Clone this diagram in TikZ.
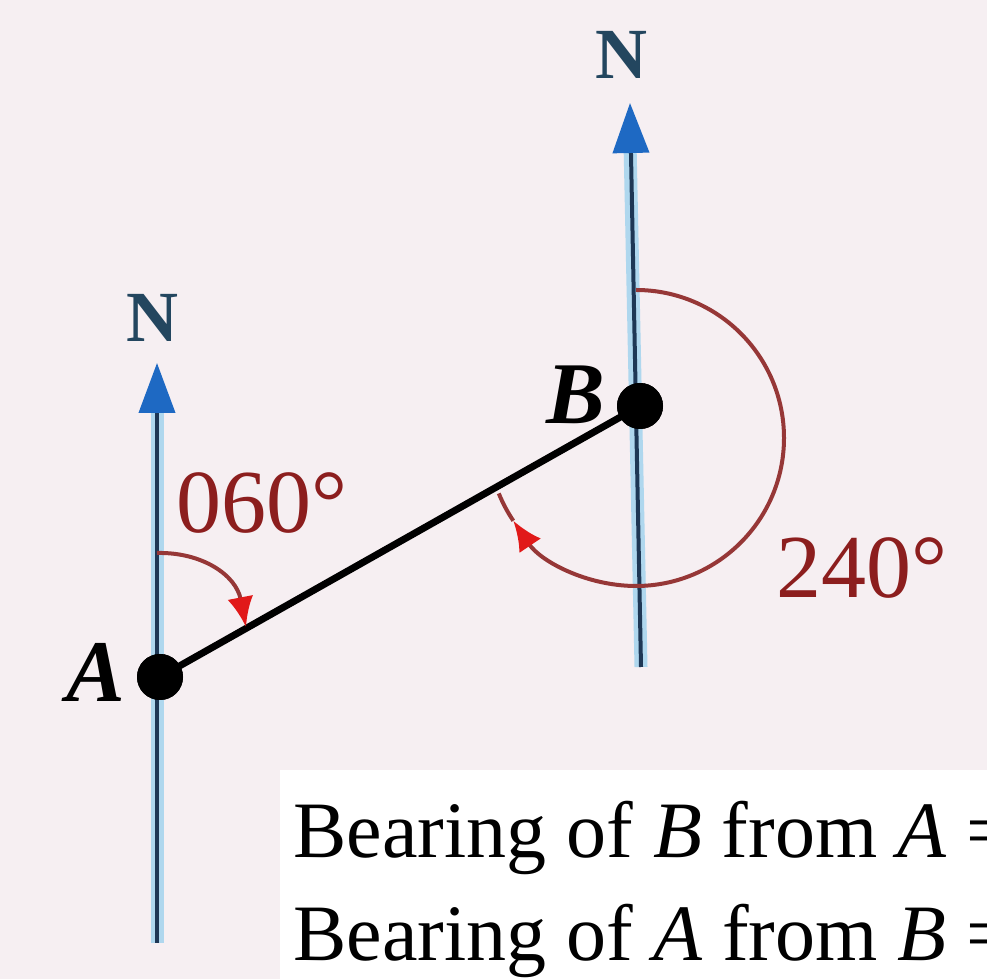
\documentclass[tikz,border=0pt]{standalone}
\usepackage{fontspec}
\setmainfont{Liberation Serif}
\usetikzlibrary{arrows.meta,calc}
\definecolor{bgc}{RGB}{246,239,242}
\definecolor{navy}{RGB}{30,55,85}
\definecolor{haloc}{RGB}{175,215,238}
\definecolor{tipblue}{RGB}{30,105,195}
\definecolor{arcred}{RGB}{150,55,55}
\definecolor{txtred}{RGB}{140,30,30}
\definecolor{brightred}{RGB}{225,25,25}
\definecolor{ntext}{RGB}{35,70,95}
\begin{document}
\begin{tikzpicture}[x=1pt,y=1pt,
  haloline/.style={haloc, line width=13pt},
  northline/.style={navy, line width=4pt, -{Triangle[length=50pt,width=36pt,color=tipblue]}},
  abline/.style={black, line width=7pt},
  ptdot/.style={circle, fill=black, minimum size=46pt, inner sep=0pt},
  nlab/.style={ntext, font=\fontsize{72}{72}\selectfont\bfseries, inner sep=0pt},
  ptlab/.style={black, font=\fontsize{88}{88}\selectfont\bfseries\itshape, inner sep=0pt},
  anglab/.style={txtred, font=\fontsize{90}{90}\selectfont, inner sep=0pt, anchor=west},
  arcline/.style={arcred, line width=4pt},
  redtip/.style={-{Latex[length=30pt,width=26pt,color=brightred]}},
  caption/.style={black, font=\fontsize{80}{100}\selectfont, inner sep=0pt, anchor=base west}
]
\useasboundingbox (0,0) rectangle (987,979);
\clip (0,0) rectangle (987,979);
\fill[bgc] (0,0) rectangle (987,979);

% named points
\coordinate (Lbot) at (157,36);
\coordinate (Ltop) at (157,616);
\coordinate (Rbot) at (641,312);
\coordinate (Rtop) at (630,876);
\coordinate (C) at (636,541);

% north lines
\draw[haloline] (Lbot) -- ($(Ltop)+(0,-40)$);
\draw[haloline] (Rbot) -- ($(Rtop)+(0,-40)$);
\draw[northline] (Lbot) -- (Ltop);
\draw[northline] (Rbot) -- (Rtop);

\node[nlab] (NL) at (152,661) {N};
\node[nlab] (NR) at (621,924) {N};

% points
\node[ptdot] (A) at (160,302) {};
\node[ptdot] (B) at (640,573) {};
\draw[abline] (A.center) -- (B.center);
\node[ptdot] at (A.center) {};
\node[ptdot] at (B.center) {};

\node[ptlab] (LA) at (96,307) {A};
\node[ptlab] (LB) at (576,584) {B};

% 060 angle
\draw[arcline, redtip] (157,426) .. controls (202,427) and (236,404) .. (246,352);
\node[anglab] (a060) at (176,476) {060°};

% 240 angle
\draw[arcline, redtip] (C) ++(90:148) arc[start angle=90, end angle=-146, radius=148];
\draw[arcline] (C) ++(-146:148) arc[start angle=-146, end angle=-158, radius=148];
\node[anglab] (a240) at (776,411) {240°};

% caption box
\fill[white] (280,0) rectangle (987,209);
\node[caption] (t1) at (293,121) {Bearing of \textit{B} from \textit{A} =};
\node[caption] (t2) at (293,19) {Bearing of \textit{A} from \textit{B} =};
\end{tikzpicture}
\end{document}
